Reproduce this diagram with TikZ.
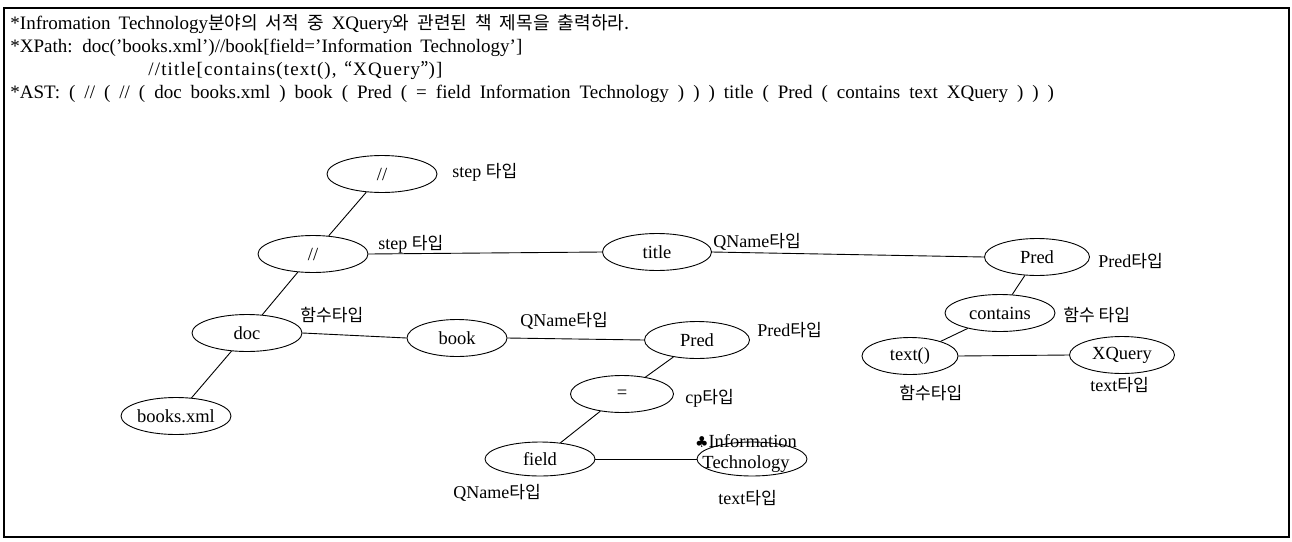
\documentclass[tikz,border=0pt]{standalone}
\usepackage{fontspec}
\setmainfont{Liberation Serif}
\newfontfamily\krf[Scale=0.95]{Noto Sans CJK KR}
\newfontfamily\symf{DejaVu Sans}
\usetikzlibrary{shapes.geometric}
\newcommand{\kr}[1]{{\krf #1}}
\tikzset{
  el/.style={draw, ellipse, minimum width=#1, minimum height=37pt, inner sep=0pt, font=\fontsize{18.5}{21}\selectfont},
  lbl/.style={anchor=west, inner sep=0pt, font=\fontsize{18}{20}\selectfont},
  hdr/.style={anchor=west, inner sep=0pt, font=\fontsize{19}{21}\selectfont},
  edge/.style={draw, line width=0.9pt}
}
\begin{document}
\begin{tikzpicture}[x=1pt, y=-1pt, line width=0.9pt]
\useasboundingbox (0,0) rectangle (1292,541);
\draw[line width=1.2pt] (4,8) rectangle (1289,537);
% header
\node[hdr] (h1) at (10,24) {\spaceskip=8pt plus 1pt *Infromation Technology\kr{분야의 서적 중} XQuery\kr{와 관련된 책 제목을 출력하라.}};
\node[hdr] (h2) at (10,48) {\spaceskip=8pt plus 1pt *XPath: doc('books.xml')//book[field='Information Technology']};
\node[hdr] (h3) at (148,71) {\spaceskip=8pt plus 1pt \addfontfeatures{LetterSpace=6}//title[contains(text(), \kr{“}XQuery\kr{”})]};
\node[hdr] (h4) at (10,94) {\spaceskip=9pt plus 1pt *AST: ( // ( // ( doc books.xml ) book ( Pred ( = field Information Technology ) ) ) title ( Pred ( contains text XQuery ) ) )};
% nodes
\node[el=110pt] (s1) at (382,174) {//};
\node[el=110pt] (s2) at (313,254) {//};
\node[el=109pt] (title) at (657,252) {title};
\node[el=105pt] (predA) at (1037,257) {Pred};
\node[el=110pt] (contains) at (1000,313) {contains};
\node[el=96pt] (textf) at (910,356) {text()};
\node[el=105pt] (xq) at (1122,355) {XQuery};
\node[el=110pt] (doc) at (247,333) {doc};
\node[el=100pt] (book) at (457,338) {book};
\node[el=110pt] (bx) at (176,416) {books.xml};
\node[el=105pt] (predB) at (697,340) {Pred};
\node[el=103pt] (eq) at (622,394) {=};
\node[el=110pt, minimum height=34pt] (field) at (540,459) {field};
\node[el=110pt, minimum height=34pt] (info) at (752,459) {};
\node[align=center, inner sep=0pt, font=\fontsize{18.5}{21}\selectfont] (infot) at (746,453) {{\symf\fontsize{15}{15}\selectfont ♣}Information\\Technology};
% labels
\node[lbl] (l1) at (452,172) {step \kr{타입}};
\node[lbl] (l2) at (378,244) {step \kr{타입}};
\node[lbl] (l3) at (713,242) {QName\kr{타입}};
\node[lbl] (l4) at (1098,261) {Pred\kr{타입}};
\node[lbl] (l5) at (1063,315) {\kr{함수 타입}};
\node[lbl] (l6) at (899,393) {\kr{함수타입}};
\node[lbl] (l7) at (1090,385) {text\kr{타입}};
\node[lbl] (l8) at (300,315) {\kr{함수타입}};
\node[lbl] (l9) at (520,321) {QName\kr{타입}};
\node[lbl] (l10) at (757,330) {Pred\kr{타입}};
\node[lbl] (l11) at (685,398) {cp\kr{타입}};
\node[lbl] (l12) at (453,493) {QName\kr{타입}};
\node[lbl] (l13) at (718,498) {text\kr{타입}};
% edges
\draw[edge] (s1) -- (s2);
\draw[edge] (s2.east) -- (title.west);
\draw[edge] (title.east) -- (predA.west);
\draw[edge] (predA) -- (contains);
\draw[edge] (contains) -- (textf);
\draw[edge] (textf.east) -- (xq.west);
\draw[edge] (s2) -- (doc);
\draw[edge] (doc) -- (bx);
\draw[edge] (doc.east) -- (book.west);
\draw[edge] (book.east) -- (predB.west);
\draw[edge] (predB) -- (eq);
\draw[edge] (eq) -- (field);
\draw[edge] (field.east) -- (info.west);
\end{tikzpicture}
\end{document}
